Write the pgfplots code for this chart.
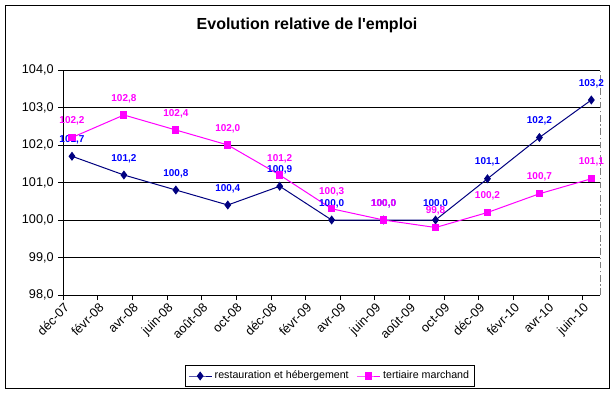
\documentclass[border=0pt]{standalone}
\usepackage{fontspec}
\setmainfont{Liberation Sans}[Ligatures=TeXOff]
\usepackage{pgfplots}
\pgfplotsset{compat=1.18}
\definecolor{navyl}{RGB}{0,0,128}
\definecolor{lblue}{RGB}{0,0,255}
\definecolor{mag}{RGB}{255,0,255}
\begin{document}
\begin{tikzpicture}
\useasboundingbox (-47.5pt,-74.25pt) rectangle (413.75pt,221.25pt);
\fill[white] (-47.5pt,-74.25pt) rectangle (413.75pt,221.25pt);
\draw[black, line width=0.75pt] (-43.7pt,-69.75pt) rectangle (409.3pt,217.5pt);
\node[font=\bfseries\fontsize{12}{14}\selectfont] at (182.8pt,202.5pt) {Evolution relative de l'emploi};
\begin{axis}[
  at={(0pt,0pt)}, anchor=south west,
  scale only axis, width=402.5pt, height=168.75pt,
  xmin=-0.5, xmax=30.5, ymin=98, ymax=104,
  ytick={98,99,...,104},
  xtick={-0.5,1.5,...,29.5},
  xticklabels={déc-07,févr-08,avr-08,juin-08,août-08,oct-08,déc-08,févr-09,avr-09,juin-09,août-09,oct-09,déc-09,févr-10,avr-10,juin-10},
  ymajorgrids, major grid style={black, line width=0.75pt},
  axis x line*=bottom, axis y line*=left,
  axis line style={black, line width=0.75pt},
  tick align=outside, major tick length=3.75pt,
  tick style={black, line width=0.75pt},
  y tick label style={font=\fontsize{9.5}{11}\selectfont},
  x tick label style={rotate=45, anchor=north east, font=\fontsize{9.5}{11}\selectfont, inner sep=1pt},
  /pgf/number format/.cd, fixed, fixed zerofill, precision=1, use comma, assume math mode=true,
  /pgfplots/.cd,
  clip=false,
  legend columns=2,
  legend style={at={(0.497,-0.36)}, anchor=center, draw=black, line width=0.6pt,
    font=\fontsize{8}{9.5}\selectfont, inner sep=2pt,
    /tikz/every even column/.append style={column sep=4pt}},
  every node near coord/.append style={font=\bfseries\fontsize{7.5}{9}\selectfont, anchor=center, yshift=12.5pt},
]
\draw[gray, line width=0.75pt, dash pattern=on 5pt off 2pt on 1pt off 2pt] (rel axis cs:1,0) -- (rel axis cs:1,1);
\addplot[color=navyl, line width=0.75pt, mark=diamond*, mark size=2.8pt,
  mark options={fill=navyl, solid},
  nodes near coords, every node near coord/.append style={text=lblue}]
  coordinates {(0,101.7)(3,101.2)(6,100.8)(9,100.4)(12,100.9)(15,100.0)(18,100.0)(21,100.0)(24,101.1)(27,102.2)(30,103.2)};
\addlegendentry{restauration et hébergement}
\addplot[color=mag, line width=0.75pt, mark=square*, mark size=2.3pt,
  mark options={fill=mag, solid},
  nodes near coords, every node near coord/.append style={text=mag}]
  coordinates {(0,102.2)(3,102.8)(6,102.4)(9,102.0)(12,101.2)(15,100.3)(18,100.0)(21,99.8)(24,100.2)(27,100.7)(30,101.1)};
\addlegendentry{tertiaire marchand}
\end{axis}
\end{tikzpicture}
\end{document}
